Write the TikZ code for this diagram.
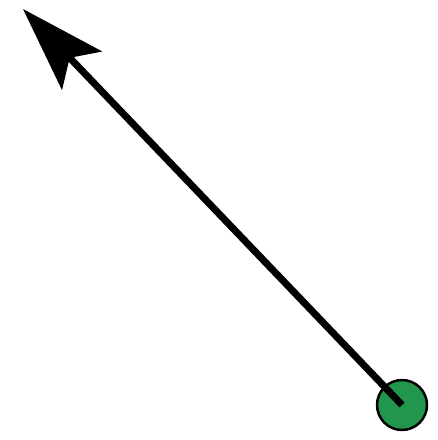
\documentclass[tikz,border=0pt]{standalone}
\usepackage{tikz}
\usetikzlibrary{arrows.meta}
\definecolor{dotgreen}{RGB}{34,150,76}

\begin{document}
\begin{tikzpicture}[
  dot/.style={circle,draw=black,fill=dotgreen,line width=1.4pt,minimum size=1.0cm,inner sep=0pt},
  vec/.style={draw=black,line width=4pt,-{Stealth[length=1.7cm,width=1.1cm,inset=0.35cm]}}
]
\useasboundingbox (0,0) rectangle (8.76,8.8);
\node[dot] (origin) at (8.04,0.70) {};
\coordinate (tip) at (0.46,8.62);
\draw[vec] (origin.center) -- (tip);
\end{tikzpicture}
\end{document}
